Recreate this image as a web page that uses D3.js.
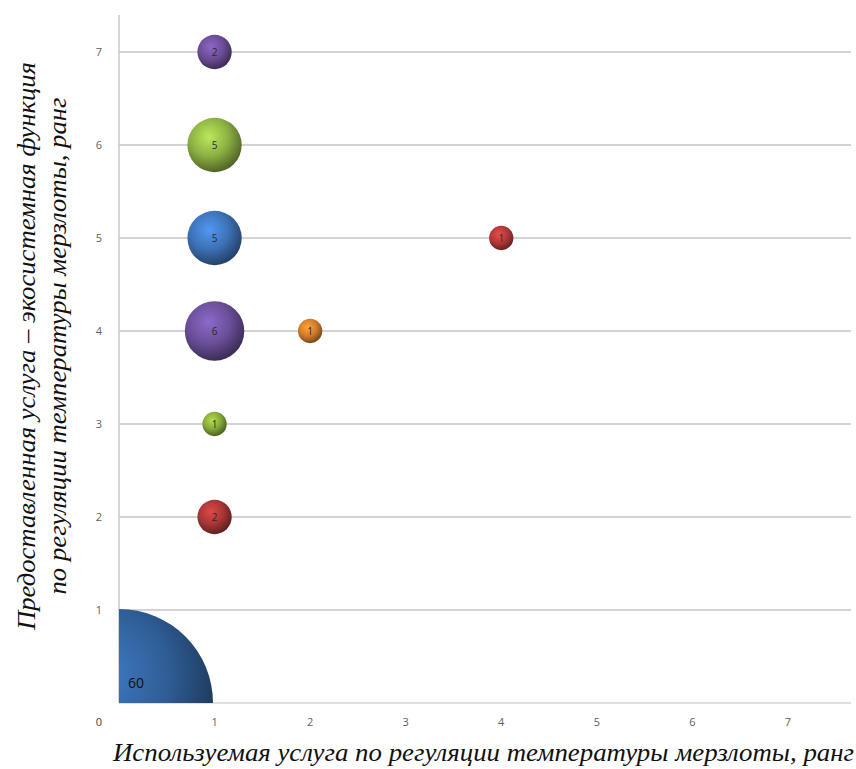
<!DOCTYPE html>
<html><head><meta charset="utf-8">
<script src="https://cdn.jsdelivr.net/npm/d3@7"></script>
<style>body{margin:0;background:#fff}svg{display:block}</style>
</head><body>
<script>
const xValues = [1, 1, 1, 1, 1, 1, 2, 4, 0];
const yValues = [7, 6, 5, 4, 3, 2, 4, 5, 0];
const sizes   = [2, 5, 5, 6, 1, 2, 1, 1, 60];
const colors  = ["#6b4d96", "#8cb043", "#3d72b6", "#6a4f99", "#86a83a", "#a83636", "#d27c2c", "#b23838", "#2f5e96"];
const xTicks = [1, 2, 3, 4, 5, 6, 7];
const yTicks = [1, 2, 3, 4, 5, 6, 7];
const xTitle = "Используемая услуга по регуляции температуры мерзлоты, ранг";
const yTitle1 = "Предоставленная услуга – экосистемная функция";
const yTitle2 = "по регуляции температуры мерзлоты, ранг";

const W = 856, H = 769;
const svg = d3.select("body").append("svg").attr("width", W).attr("height", H);
const x = d3.scaleLinear().domain([0, 7.66]).range([119, 851]);
const y = d3.scaleLinear().domain([0, 7]).range([703, 52]);
const r = d3.scaleSqrt().domain([0, 60]).range([0, 94]);

const defs = svg.append("defs");
colors.forEach((c, i) => {
  const g = defs.append("radialGradient").attr("id", "g" + i)
    .attr("cx", "40%").attr("cy", "35%").attr("r", "65%");
  g.append("stop").attr("offset", "0%").attr("stop-color", d3.color(c).brighter(0.8));
  g.append("stop").attr("offset", "55%").attr("stop-color", c);
  g.append("stop").attr("offset", "100%").attr("stop-color", d3.color(c).darker(1.5));
});
defs.append("clipPath").attr("id", "plot").append("rect")
  .attr("x", 119).attr("y", 15).attr("width", 732).attr("height", 688);

// gridlines
svg.append("g").selectAll("line").data(yTicks).join("line")
  .attr("x1", 119).attr("x2", 851).attr("y1", d => y(d)).attr("y2", d => y(d))
  .attr("stroke", "#c4c4c4").attr("stroke-width", 1.5);
// axes lines
svg.append("line").attr("x1", 119).attr("x2", 851).attr("y1", 703).attr("y2", 703)
  .attr("stroke", "#d4d4d4").attr("stroke-width", 1.5);
svg.append("line").attr("x1", 119).attr("x2", 119).attr("y1", 15).attr("y2", 703)
  .attr("stroke", "#c8c8c8").attr("stroke-width", 1.5);

// tick labels
const tickFont = "'Open Sans', 'Liberation Sans', sans-serif";
svg.append("g").selectAll("text").data(yTicks).join("text")
  .attr("x", 99).attr("y", d => y(d) + 4).attr("text-anchor", "middle")
  .attr("font-family", tickFont).attr("font-size", 11).attr("fill", "#606060").text(d => d);
svg.append("g").selectAll("text").data(xTicks).join("text")
  .attr("x", d => x(d)).attr("y", 726).attr("text-anchor", "middle")
  .attr("font-family", tickFont).attr("font-size", 11).attr("fill", "#606060").text(d => d);
svg.append("text").attr("x", 99).attr("y", 726).attr("text-anchor", "middle")
  .attr("font-family", tickFont).attr("font-size", 11).attr("fill", "#404040").text("0");

// bubbles
const data = xValues.map((v, i) => ({x: v, y: yValues[i], s: sizes[i], i}));
const bg = svg.append("g").attr("clip-path", "url(#plot)");
bg.selectAll("circle").data(data).join("circle")
  .attr("cx", d => x(d.x)).attr("cy", d => y(d.y)).attr("r", d => r(d.s))
  .attr("fill", d => `url(#g${d.i})`);

// bubble labels
svg.append("g").selectAll("text").data(data.filter(d => d.s < 60)).join("text")
  .attr("x", d => x(d.x)).attr("y", d => y(d.y) + 4).attr("text-anchor", "middle")
  .attr("font-family", tickFont).attr("font-size", 10).attr("fill", "#2a2a2a").text(d => d.s);
svg.append("g").selectAll("text").data(data.filter(d => d.s >= 60)).join("text")
  .attr("x", x(0) + 9).attr("y", 688)
  .attr("font-family", tickFont).attr("font-size", 14).attr("fill", "#111").text(d => d.s);

// titles
const titleFont = "'Liberation Serif', 'Times New Roman', serif";
svg.append("text").attr("x", 483.5).attr("y", 761).attr("text-anchor", "middle")
  .attr("font-family", titleFont).attr("font-style", "italic").attr("font-size", 26)
  .attr("textLength", 741).attr("lengthAdjust", "spacingAndGlyphs")
  .attr("fill", "#111").text(xTitle);
svg.append("text").attr("transform", "translate(35,346) rotate(-90)").attr("text-anchor", "middle")
  .attr("font-family", titleFont).attr("font-style", "italic").attr("font-size", 26)
  .attr("textLength", 568).attr("lengthAdjust", "spacingAndGlyphs")
  .attr("fill", "#111").text(yTitle1);
svg.append("text").attr("transform", "translate(66,346) rotate(-90)").attr("text-anchor", "middle")
  .attr("font-family", titleFont).attr("font-style", "italic").attr("font-size", 26)
  .attr("textLength", 497).attr("lengthAdjust", "spacingAndGlyphs")
  .attr("fill", "#111").text(yTitle2);
</script>
</body></html>
